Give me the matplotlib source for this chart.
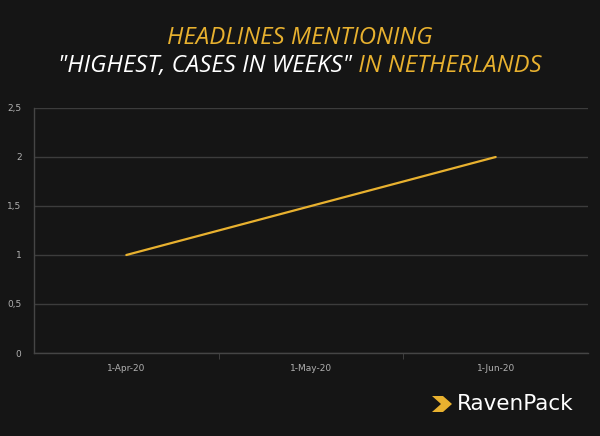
import matplotlib
matplotlib.use("Agg")
import matplotlib.pyplot as plt
from matplotlib.patches import Polygon

categories = ["1-Apr-20", "1-May-20", "1-Jun-20"]
values = [1, 1.5, 2]
y_ticks = [0, 0.5, 1, 1.5, 2, 2.5]
y_labels = ["0", "0,5", "1", "1,5", "2", "2,5"]

BG = "#151515"
GOLD = "#E8B12F"
GRID = "#3c3c3c"
TICK = "#b0b0b0"

W, H = 600, 436
fig = plt.figure(figsize=(W / 100, H / 100), dpi=100, facecolor=BG)
ax = fig.add_axes([34 / W, (H - 353) / H, (588 - 34) / W, (353 - 108) / H])
ax.set_facecolor(BG)

x = range(len(categories))
ax.plot(x, values, color=GOLD, lw=1.6, solid_capstyle="round")

ax.set_xlim(-0.5, len(categories) - 0.5)
ax.set_ylim(0, 2.5)
ax.set_yticks(y_ticks)
ax.set_yticklabels(y_labels)
ax.set_xticks(list(x))
ax.set_xticklabels(categories)
ax.set_xticks([0.5, 1.5], minor=True)
ax.grid(axis="y", color=GRID, lw=1)
ax.set_axisbelow(True)

for s in ["top", "right"]:
    ax.spines[s].set_visible(False)
for s in ["left", "bottom"]:
    ax.spines[s].set_color("#454545")
    ax.spines[s].set_linewidth(1)

ax.tick_params(axis="y", length=0, pad=9, labelsize=6.5, labelcolor=TICK)
ax.tick_params(axis="x", which="major", length=0, pad=8, labelsize=6.5, labelcolor=TICK)
ax.tick_params(axis="x", which="minor", length=4, color="#454545", direction="out")

# title, two colours on the second line
tfont = dict(family="Open Sans", style="italic", weight="medium", fontsize=16.5)
fig.canvas.draw()
r = fig.canvas.get_renderer()
t = fig.text(0, 0, "HEADLINES MENTIONING", **tfont)
scale = 265 / t.get_window_extent(r).width
t.remove()
tfont["fontsize"] *= scale

fig.text(300 / W, 1 - 38 / H, "HEADLINES MENTIONING", color=GOLD,
         ha="center", va="center", **tfont)

parts = [('"HIGHEST, CASES IN WEEKS"', "white"), (" IN NETHERLANDS", GOLD)]
widths = []
for txt, c in parts:
    t = fig.text(0, 0, txt, **tfont)
    widths.append(t.get_window_extent(r).width)
    t.remove()
xs = 300 - sum(widths) / 2
for (txt, c), w in zip(parts, widths):
    fig.text(xs / W, 1 - 66 / H, txt, color=c, ha="left", va="center", **tfont)
    xs += w

# logo
chev = [(432, 396), (443, 396), (452, 404), (443, 412), (432, 412), (441, 404)]
fig.patches.append(Polygon([(px / W, 1 - py / H) for px, py in chev], closed=True,
                           facecolor=GOLD, edgecolor="none", transform=fig.transFigure))
fig.text(457 / W, 1 - 404 / H, "RavenPack", color="white", family="DejaVu Sans",
         fontsize=15.5, ha="left", va="center")

fig.savefig("out.png", dpi=100, facecolor=BG)
